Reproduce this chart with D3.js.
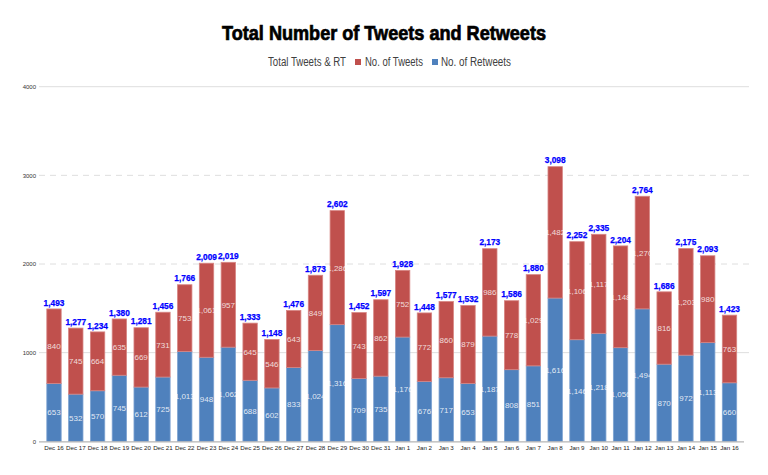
<!DOCTYPE html>
<html><head><meta charset="utf-8">
<script src="https://cdn.jsdelivr.net/npm/d3@7"></script>
<style>body{margin:0;background:#fff}</style>
</head><body>
<script>
const categories = ["Dec 16","Dec 17","Dec 18","Dec 19","Dec 20","Dec 21","Dec 22","Dec 23","Dec 24","Dec 25","Dec 26","Dec 27","Dec 28","Dec 29","Dec 30","Dec 31","Jan 1","Jan 2","Jan 3","Jan 4","Jan 5","Jan 6","Jan 7","Jan 8","Jan 9","Jan 10","Jan 11","Jan 12","Jan 13","Jan 14","Jan 15","Jan 16"];
const retweets = [653,532,570,745,612,725,1013,948,1062,688,602,833,1024,1316,709,735,1176,676,717,653,1187,808,851,1616,1146,1218,1056,1494,870,972,1113,660];
const tweets = [840,745,664,635,669,731,753,1061,957,645,546,643,849,1286,743,862,752,772,860,879,986,778,1029,1482,1106,1117,1148,1270,816,1203,980,763];
const totals = [1493,1277,1234,1380,1281,1456,1766,2009,2019,1333,1148,1476,1873,2602,1452,1597,1928,1448,1577,1532,2173,1586,1880,3098,2252,2335,2204,2764,1686,2175,2093,1423];
const yTicks = [0,1000,2000,3000,4000];
const seriesNames = ["Total Tweets & RT","No. of Tweets","No. of Retweets"];

const W = 768, H = 475;
const RED = "#c0504d", BLUE = "#4f81bd";
const svg = d3.select("body").append("svg").attr("width", W).attr("height", H);

const x = d3.scaleBand().domain(categories).range([43.1, 740.4]).paddingInner(0.34).paddingOuter(0.17);
const y = d3.scaleLinear().domain([0, 4000]).range([441.3, 86.7]);

// title
svg.append("text").attr("x", 384).attr("y", 40).attr("text-anchor", "middle")
  .attr("font-family", "Liberation Sans, Arial, sans-serif").attr("font-weight", "bold")
  .attr("font-size", 20).attr("textLength", 324).attr("lengthAdjust", "spacingAndGlyphs")
  .attr("fill", "#000").attr("stroke", "#000").attr("stroke-width", 0.7)
  .text("Total Number of Tweets and Retweets");

// legend
const lg = svg.append("g").attr("font-family", "Liberation Sans Narrow, Liberation Sans, Arial, sans-serif")
  .attr("font-size", 12).attr("fill", "#404040");
lg.append("text").attr("x", 268).attr("y", 66).attr("textLength", 78).attr("lengthAdjust", "spacingAndGlyphs").text(seriesNames[0]);
lg.append("rect").attr("x", 355).attr("y", 59).attr("width", 6).attr("height", 6).attr("fill", RED);
lg.append("text").attr("x", 365).attr("y", 66).attr("textLength", 58).attr("lengthAdjust", "spacingAndGlyphs").text(seriesNames[1]);
lg.append("rect").attr("x", 432).attr("y", 59).attr("width", 6).attr("height", 6).attr("fill", BLUE);
lg.append("text").attr("x", 441).attr("y", 66).attr("textLength", 70).attr("lengthAdjust", "spacingAndGlyphs").text(seriesNames[2]);

// gridlines
const grid = svg.append("g");
yTicks.filter(d => d > 0).forEach(t => {
  grid.append("line").attr("x1", 39).attr("x2", 749).attr("y1", y(t)).attr("y2", y(t))
    .attr("stroke", "#dedede").attr("stroke-width", 1)
    .attr("stroke-dasharray", (t === 2000 || t === 3000) ? "6,5" : null);
});

// y axis labels
const ya = svg.append("g").attr("transform", "translate(36,0)")
  .call(d3.axisLeft(y).tickValues(yTicks).tickSize(0).tickPadding(0).tickFormat(d3.format("d")));
ya.select(".domain").remove();
ya.selectAll("text").attr("font-family", "Liberation Sans, Arial, sans-serif").attr("font-size", 6).attr("fill", "#333");

// bars
const g = svg.append("g");
categories.forEach((c, i) => {
  const bx = x(c), bw = x.bandwidth();
  g.append("rect").attr("x", bx).attr("width", bw).attr("y", y(retweets[i])).attr("height", y(0) - y(retweets[i]))
    .attr("fill", BLUE).attr("stroke", "#7ea3d2").attr("stroke-width", 0.8);
  g.append("rect").attr("x", bx).attr("width", bw).attr("y", y(retweets[i] + tweets[i])).attr("height", y(retweets[i]) - y(retweets[i] + tweets[i]))
    .attr("fill", RED).attr("stroke", "#d78583").attr("stroke-width", 0.8);
});

const fmt = d3.format(",");
const lab = svg.append("g").attr("font-family", "Liberation Sans, Arial, sans-serif").attr("text-anchor", "middle");
categories.forEach((c, i) => {
  const cx = x(c) + x.bandwidth() / 2;
  lab.append("text").attr("x", cx).attr("y", (y(0) + y(retweets[i])) / 2 + 3)
    .attr("font-size", 8).attr("fill", "#fff").attr("fill-opacity", 0.85).text(fmt(retweets[i]));
  lab.append("text").attr("x", cx).attr("y", (y(retweets[i]) + y(retweets[i] + tweets[i])) / 2 + 3)
    .attr("font-size", 8).attr("fill", "#fff").attr("fill-opacity", 0.8).text(fmt(tweets[i]));
  lab.append("text").attr("x", cx).attr("y", y(totals[i]) - 3.3)
    .attr("font-size", 8.3).attr("font-weight", "bold").attr("fill", "#0000ff")
    .attr("stroke", "#0000ff").attr("stroke-width", 0.25).text(fmt(totals[i]));
});

// x axis
svg.append("line").attr("x1", 39).attr("x2", 744).attr("y1", y(0) + 0.5).attr("y2", y(0) + 0.5)
  .attr("stroke", "#b5b5b5").attr("stroke-width", 1.3);
const xa = svg.append("g").attr("transform", `translate(0,${y(0)})`)
  .call(d3.axisBottom(x).tickSize(0).tickPadding(4.5));
xa.select(".domain").remove();
xa.selectAll("text").attr("font-family", "Liberation Sans, Arial, sans-serif").attr("font-size", 6.2).attr("fill", "#222");
</script>
</body></html>
